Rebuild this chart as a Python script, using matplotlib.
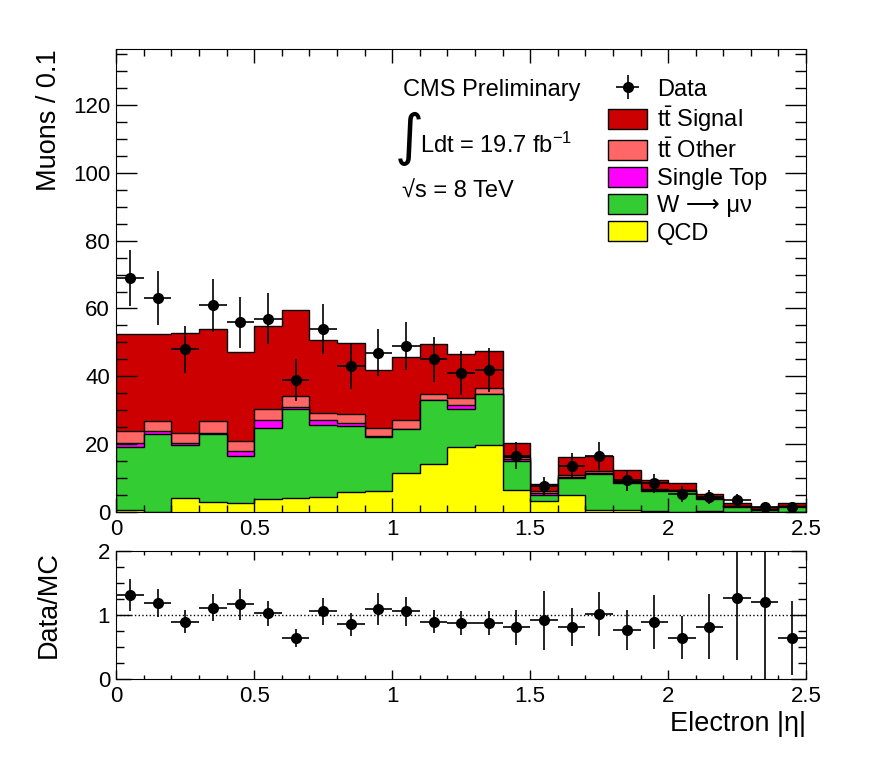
import numpy as np
import matplotlib
matplotlib.use("Agg")
import matplotlib.pyplot as plt
from matplotlib.patches import Patch
from matplotlib.ticker import MultipleLocator

plt.rcParams['font.family'] = ['Liberation Sans', 'DejaVu Sans']
plt.rcParams['mathtext.fontset'] = 'custom'
plt.rcParams['mathtext.rm'] = 'Liberation Sans'
plt.rcParams['mathtext.it'] = 'Liberation Sans:italic'

# --- data (Electron |eta|, 25 bins of 0.1) ---
bin_edges = np.linspace(0.0, 2.5, 26)

qcd = [0.7, 0.2, 4.3, 3.1, 2.8, 3.8, 4.1, 4.6, 5.9, 6.2, 11.6, 14.3, 19.3,
       19.9, 6.7, 3.4, 5.2, 0.8, 0.7, 0.4, 0.2, 0.3, 0.1, 0.05, 0.2]
w_munu = [18.5, 22.9, 15.4, 20.0, 13.8, 21.0, 26.3, 21.1, 19.5, 16.1, 12.9, 18.8, 11.1,
          14.9, 8.5, 1.6, 4.9, 10.5, 7.8, 5.8, 6.2, 3.7, 1.5, 0.65, 1.4]
single_top = [1.1, 0.9, 0.8, 0.3, 1.3, 2.4, 0.7, 1.5, 0.8, 0.2, 0.1, 0.1, 1.3,
              0.1, 0.4, 0.8, 0.2, 0.3, 0.4, 0.3, 0.1, 0.1, 0.2, 0.1, 0.2]
tt_other = [3.7, 2.9, 2.7, 3.5, 3.1, 3.2, 3.2, 2.0, 2.8, 2.4, 2.6, 1.6, 2.0,
            1.8, 0.7, 0.5, 0.8, 0.6, 0.4, 0.3, 0.1, 0.1, 0.2, 0.1, 0.2]
tt_signal = [28.5, 25.6, 29.6, 27.0, 26.1, 24.5, 25.2, 21.5, 20.9, 17.1, 18.6, 14.7, 12.9,
             10.8, 4.1, 2.1, 5.2, 4.3, 3.1, 2.6, 2.0, 1.2, 0.7, 0.7, 0.8]

data = [69, 63, 48, 61, 56, 57, 39, 54, 43, 47, 49, 45, 41,
        42, 16.7, 7.6, 13.7, 16.6, 9.4, 8.5, 5.3, 4.5, 3.5, 1.6, 1.6]

ratio = [1.31, 1.19, 0.90, 1.12, 1.17, 1.03, 0.65, 1.06, 0.86, 1.10, 1.06, 0.90, 0.875,
         0.875, 0.81, 0.92, 0.82, 1.02, 0.77, 0.89, 0.65, 0.82, 1.27, 1.21, 0.64]
ratio_err = [0.25, 0.22, 0.18, 0.21, 0.24, 0.19, 0.14, 0.21, 0.18, 0.245, 0.22, 0.18, 0.19,
             0.19, 0.28, 0.46, 0.30, 0.35, 0.32, 0.42, 0.34, 0.51, 0.97, 1.4, 0.58]

labels = ['Data', r't$\bar{\rm t}$ Signal', r't$\bar{\rm t}$ Other', 'Single Top',
          'W \u27f6 \u03bc\u03bd', 'QCD']
colors = ['#ffff00', '#33cc33', '#ff00ff', '#ff6666', '#cc0000']  # bottom -> top

centers = 0.5 * (bin_edges[1:] + bin_edges[:-1])
half_w = 0.5 * np.diff(bin_edges)

fig = plt.figure(figsize=(8.96, 7.72), dpi=100)
ax = fig.add_axes([0.1298, 0.3364, 0.7698, 0.5997])
rax = fig.add_axes([0.1298, 0.1201, 0.7698, 0.1658])

# stacked histogram, drawn from the top layer down
layers = np.array([qcd, w_munu, single_top, tt_other, tt_signal])
tops = np.cumsum(layers, axis=0)
for top, c in reversed(list(zip(tops, colors))):
    ax.stairs(top, bin_edges, baseline=0, fill=True, facecolor=c,
              edgecolor='black', linewidth=1.0)

data = np.array(data)
dat = ax.errorbar(centers, data, xerr=half_w, yerr=np.sqrt(data), fmt='o', color='black',
                  ms=7, elinewidth=1.2, capsize=0)

ax.set_xlim(0, 2.5)
ax.set_ylim(0, 136.3)
ax.xaxis.set_major_locator(MultipleLocator(0.5))
ax.xaxis.set_minor_locator(MultipleLocator(0.1))
ax.yaxis.set_major_locator(MultipleLocator(20))
ax.yaxis.set_minor_locator(MultipleLocator(5))
ax.tick_params(which='both', direction='in', top=True, right=True, labelsize=16, width=1)
ax.tick_params(axis='y', which='major', length=15, pad=4.5)
ax.tick_params(axis='y', which='minor', length=8)
ax.tick_params(axis='x', which='major', length=10, pad=5)
ax.tick_params(axis='x', which='minor', length=5)
ax.xaxis.set_major_formatter(plt.FuncFormatter(lambda v, p: f'{v:g}'))
ax.set_ylabel('Muons / 0.1', fontsize=19.5, loc='top')
ax.yaxis.set_label_coords(-0.079, 1.0)

handles = [dat] + [Patch(facecolor=c, edgecolor='black', linewidth=1.0)
                   for c in colors[::-1]]
ax.legend(handles, labels, loc='upper left', bbox_to_anchor=(0.713, 0.9385),
          frameon=False, borderpad=0, borderaxespad=0, fontsize=17,
          handlelength=1.65, handleheight=0.93, handletextpad=0.42, labelspacing=0.17)

ax.text(0.4157, 0.899, 'CMS Preliminary', transform=ax.transAxes, fontsize=17,
        va='baseline', ha='left')
ax.text(0.425, 0.806, '\u222b', transform=ax.transAxes, fontsize=40,
        family='DejaVu Sans', va='center', ha='center')
ax.text(0.4405, 0.7767, r'Ldt = 19.7 fb$^{-1}$', transform=ax.transAxes, fontsize=17,
        va='baseline', ha='left')
ax.text(0.4143, 0.679, '\u221as = 8 TeV', transform=ax.transAxes, fontsize=17,
        va='baseline', ha='left')

# ratio panel
rax.axhline(1.0, color='black', ls=':', lw=1.0)
rax.errorbar(centers, ratio, xerr=half_w, yerr=ratio_err, fmt='o', color='black',
             ms=7, elinewidth=1.2, capsize=0)
rax.set_xlim(0, 2.5)
rax.set_ylim(0, 2)
rax.xaxis.set_major_locator(MultipleLocator(0.5))
rax.xaxis.set_minor_locator(MultipleLocator(0.1))
rax.yaxis.set_major_locator(MultipleLocator(1))
rax.yaxis.set_minor_locator(MultipleLocator(0.25))
rax.tick_params(which='both', direction='in', top=True, right=True, labelsize=16, width=1)
rax.tick_params(axis='y', which='major', length=11, pad=4.5)
rax.tick_params(axis='y', which='minor', length=5.5)
rax.tick_params(axis='x', which='major', length=6.5, pad=5)
rax.tick_params(axis='x', which='minor', length=3)
rax.xaxis.set_major_formatter(plt.FuncFormatter(lambda v, p: f'{v:g}'))
rax.set_ylabel('Data/MC', fontsize=19.5, loc='top')
rax.yaxis.set_label_coords(-0.079, 1.0)
rax.set_xlabel('Electron |\u03b7|', fontsize=19.5, loc='right')
rax.xaxis.set_label_coords(1.0, -0.25)

fig.savefig('out.png', dpi=100)
